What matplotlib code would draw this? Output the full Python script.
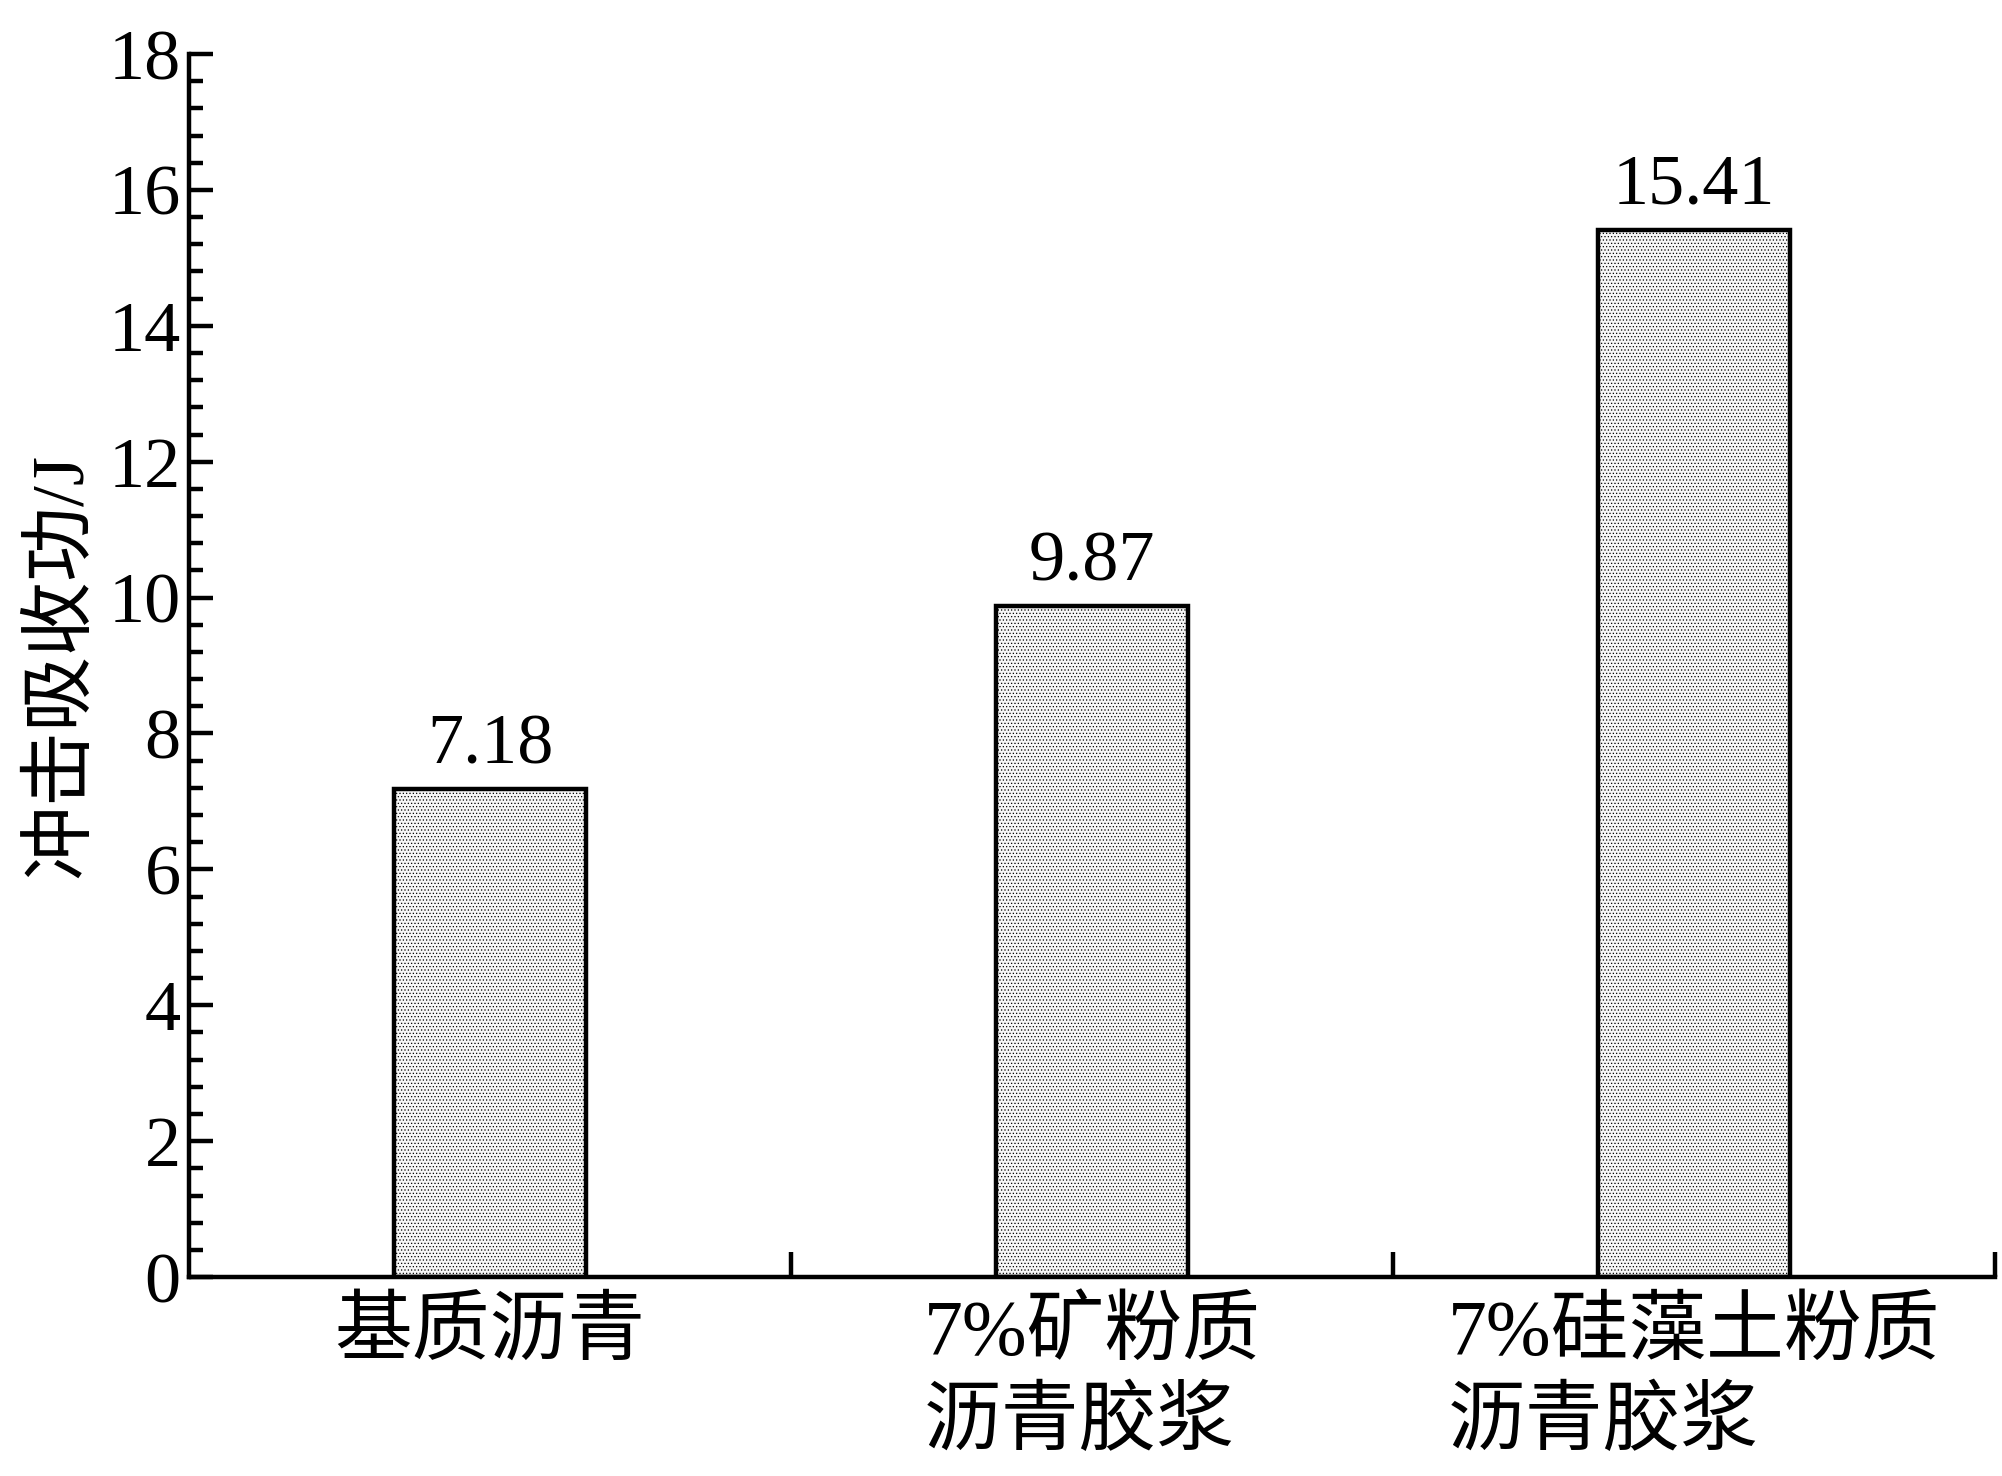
import numpy as np
import matplotlib
matplotlib.use('Agg')
import matplotlib.pyplot as plt
from matplotlib.ticker import MultipleLocator

# 字体: 数字用衬线体, 中文回退到 Noto Sans CJK
plt.rcParams['font.family'] = ['Liberation Serif', 'Noto Sans CJK SC']
plt.rcParams['hatch.linewidth'] = 0.5
plt.rcParams['hatch.color'] = '#666666'

# 数据
categories = ['基质沥青', '7%矿粉质\n沥青胶浆', '7%硅藻土粉质\n沥青胶浆']
values = [7.18, 9.87, 15.41]
ylabel = '冲击吸收功/J'

fig = plt.figure(figsize=(20.02, 14.76), dpi=100)
ax = fig.add_axes([0.0944, 0.1348, 0.902, 0.8286])

x = np.arange(len(categories))
bars = ax.bar(x, values, width=0.32, color='#f6f6f6', edgecolor='black',
              linewidth=3.2, hatch='.....', zorder=2)

for xi, v in zip(x, values):
    ax.annotate(f'{v:.2f}', (xi, v), xytext=(0, 8), textcoords='offset points',
                ha='center', va='bottom', fontsize=52)

ax.set_xlim(-0.5, 2.5)
ax.set_ylim(0, 18)
ax.yaxis.set_major_locator(MultipleLocator(2))
ax.yaxis.set_minor_locator(MultipleLocator(0.4))
ax.set_xticks(x)
ax.set_xticklabels(categories, fontsize=56, multialignment='left', linespacing=1.32)
ax.set_xticks([0.5, 1.5, 2.5], minor=True)

for s in ['top', 'right']:
    ax.spines[s].set_visible(False)
for s in ['left', 'bottom']:
    ax.spines[s].set_linewidth(3.2)

ax.tick_params(axis='y', which='major', direction='in', length=17, width=3.2,
               labelsize=52, pad=6)
ax.tick_params(axis='y', which='minor', direction='in', length=10, width=3.2)
ax.tick_params(axis='x', which='major', length=0, pad=16)
ax.tick_params(axis='x', which='minor', direction='in', length=18, width=3.2)

ax.set_ylabel(ylabel, fontsize=54, labelpad=8)

fig.savefig('out.png', dpi=100)
